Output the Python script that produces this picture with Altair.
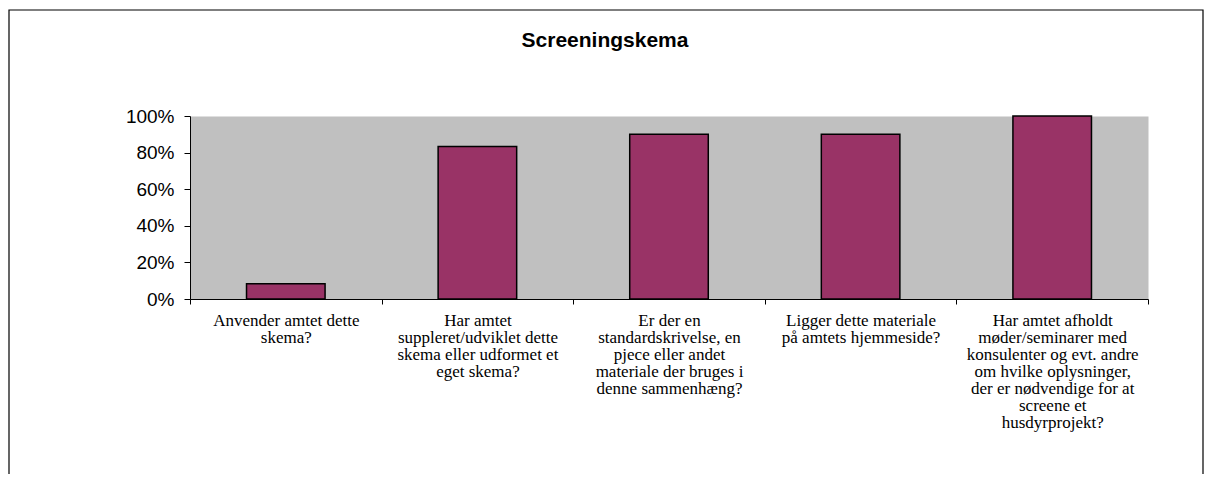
import altair as alt
import pandas as pd

title_text = "Screeningskema"
category_lines = [
    ["Anvender amtet dette", "skema?"],
    ["Har amtet", "suppleret/udviklet dette", "skema eller udformet et", "eget skema?"],
    ["Er der en", "standardskrivelse, en", "pjece eller andet", "materiale der bruges i", "denne sammenhæng?"],
    ["Ligger dette materiale", "på amtets hjemmeside?"],
    ["Har amtet afholdt", "møder/seminarer med", "konsulenter og evt. andre", "om hvilke oplysninger,",
     "der er nødvendige for at", "screene et", "husdyrprojekt?"],
]
values = [0.083, 0.833, 0.90, 0.90, 1.0]
y_ticks = [0, 0.2, 0.4, 0.6, 0.8, 1.0]

categories = ["\n".join(lines) for lines in category_lines]
df = pd.DataFrame({"question": categories, "share": values})

bars = alt.Chart(df).mark_bar(
    color="#993366", stroke="#000000", strokeWidth=1.5, width={"band": 0.41}
).encode(
    x=alt.X("question:N", sort=categories, title=None,
            scale=alt.Scale(paddingInner=0, paddingOuter=0),
            axis=alt.Axis(labelAngle=0,
                          labelExpr="isValid(datum.value) ? split(datum.value, '\\n') : ''",
                          labelFont="Liberation Serif", labelFontSize=17, labelLineHeight=17,
                          labelColor="#000000", labelLimit=0, labelBaseline="top",
                          labelPadding=8, tickSize=5, tickColor="#000000",
                          domainColor="#000000", tickBand="extent")),
    y=alt.Y("share:Q", title=None,
            scale=alt.Scale(domain=[0, 1], nice=False),
            axis=alt.Axis(values=y_ticks, format=".0%", grid=False,
                          labelFont="Liberation Sans", labelFontSize=19, labelColor="#000000",
                          labelPadding=10, tickSize=6, tickColor="#000000",
                          domainColor="#000000")),
)

frame = alt.Chart(alt.Data(values=[{"k": 1}])).mark_rect(
    fill="transparent", stroke="#000000", strokeWidth=1.2
).encode(
    x=alt.value(-181), x2=alt.value(1013), y=alt.value(-106), y2=alt.value(420)
)

title = alt.Chart(alt.Data(values=[{"t": title_text}])).mark_text(
    font="Liberation Sans", fontSize=21, fontWeight="bold", color="#000000",
    align="center", baseline="alphabetic"
).encode(
    text="t:N", x=alt.value(415), y=alt.value(-69)
)

chart = alt.layer(frame, bars, title).properties(
    width=958, height=183,
    autosize=alt.AutoSizeParams(type="none"),
    padding={"left": 182, "top": 108, "right": 56, "bottom": 175},
    background="#ffffff",
).configure_view(fill="#c0c0c0", stroke="transparent")

chart.save("out.html", embed_options={"renderer": "svg", "actions": False})
